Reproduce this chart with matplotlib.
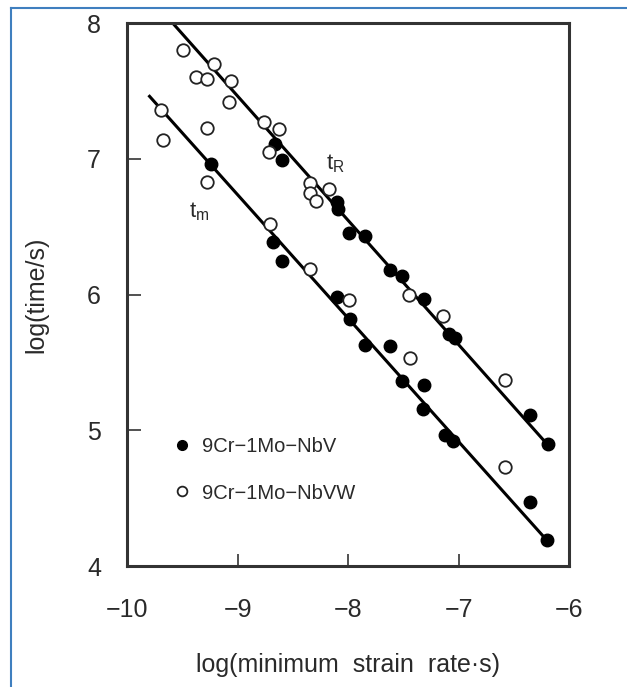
import matplotlib.pyplot as plt
from matplotlib.lines import Line2D

plt.rcParams['font.family'] = ['Liberation Sans', 'DejaVu Sans']

# 9Cr-1Mo-NbV (filled), rupture time t_R
nbv_r_x = [-8.66, -8.60, -8.10, -8.09, -7.99, -7.85, -7.62, -7.51, -7.31,
           -7.09, -7.03, -6.35, -6.19]
nbv_r_y = [7.11, 6.99, 6.68, 6.63, 6.45, 6.43, 6.18, 6.14, 5.97,
           5.71, 5.68, 5.11, 4.90]
# 9Cr-1Mo-NbV (filled), time to minimum rate t_m
nbv_m_x = [-9.24, -8.68, -8.60, -8.105, -7.985, -7.85, -7.62, -7.51, -7.31,
           -7.32, -7.12, -7.05, -6.35, -6.20]
nbv_m_y = [6.96, 6.39, 6.25, 5.98, 5.82, 5.63, 5.62, 5.36, 5.33,
           5.155, 4.965, 4.92, 4.47, 4.19]

# 9Cr-1Mo-NbVW (open), t_R
nbvw_r_x = [-9.50, -9.22, -9.38, -9.28, -9.065, -9.08, -8.76, -8.63, -8.72,
            -8.35, -8.35, -8.29, -8.17, -7.45, -7.14, -6.58]
nbvw_r_y = [7.80, 7.70, 7.60, 7.59, 7.575, 7.42, 7.27, 7.22, 7.05,
            6.82, 6.75, 6.69, 6.78, 6.00, 5.84, 5.37]
# 9Cr-1Mo-NbVW (open), t_m
nbvw_m_x = [-9.70, -9.68, -9.28, -9.28, -8.71, -8.35, -7.99, -7.44, -6.58]
nbvw_m_y = [7.36, 7.14, 7.23, 6.83, 6.52, 6.19, 5.96, 5.53, 4.73]

# fitted lines (end points)
tR_line_x = [-9.58, -6.19]
tR_line_y = [7.99, 4.89]
tm_line_x = [-9.80, -6.19]
tm_line_y = [7.46, 4.18]

x_ticks = [-10, -9, -8, -7, -6]
y_ticks = [4, 5, 6, 7, 8]

fig = plt.figure(figsize=(6.27, 6.87), dpi=100)
ax = fig.add_axes([0.2033, 0.1761, 0.7042, 0.7904])

ax.plot(tR_line_x, tR_line_y, color='black', lw=2.2, zorder=2)
ax.plot(tm_line_x, tm_line_y, color='black', lw=2.2, zorder=2)

ms = 9
ax.plot(nbv_r_x + nbv_m_x, nbv_r_y + nbv_m_y, 'o', ms=ms, color='black',
        zorder=3)
ax.plot(nbvw_r_x + nbvw_m_x, nbvw_r_y + nbvw_m_y, 'o', ms=ms,
        mfc='white', mec='#222222', mew=1.3, zorder=3)

ax.text(-8.20, 6.92, r'$\mathregular{t_R}$', fontsize=16, color='#2a2a2a')
ax.text(-9.44, 6.57, r'$\mathregular{t_m}$', fontsize=16, color='#2a2a2a')

handles = [
    Line2D([], [], ls='none', marker='o', ms=7, color='black'),
    Line2D([], [], ls='none', marker='o', ms=7, mfc='white', mec='#222222',
           mew=1.3),
]
ax.legend(handles, ['9Cr\u22121Mo\u2212NbV', '9Cr\u22121Mo\u2212NbVW'],
          loc='upper left', bbox_to_anchor=(0.106, 0.237), frameon=False,
          fontsize=14.5, handlelength=0.8, handletextpad=0.6,
          borderpad=0, borderaxespad=0, labelspacing=1.35,
          labelcolor='#2a2a2a')

ax.set_xlim(-10, -6)
ax.set_ylim(4, 8)
ax.set_xticks(x_ticks)
ax.set_yticks(y_ticks)
ax.set_xticklabels([f'\u2212{abs(v)}' for v in x_ticks])
ax.tick_params(axis='both', direction='in', width=1.2, color='#333333',
               labelsize=18, labelcolor='#2a2a2a')
ax.tick_params(axis='x', length=9, pad=23)
ax.tick_params(axis='y', length=10, pad=19)
for sp in ax.spines.values():
    sp.set_linewidth(2.2)
    sp.set_color('#333333')

ax.set_xlabel('log(minimum  strain  rate\u00b7s)', fontsize=18,
              color='#2a2a2a', labelpad=22)
ax.set_ylabel('log(time/s)', fontsize=18, color='#2a2a2a', labelpad=28)

# thin blue frame: top and left edges
fig.add_artist(Line2D([0.017, 1.0], [0.988, 0.988], color='#3f7fbf', lw=1.5))
fig.add_artist(Line2D([0.018, 0.018], [0.0, 0.988], color='#3f7fbf', lw=1.5))

fig.savefig('out.png', dpi=100)
